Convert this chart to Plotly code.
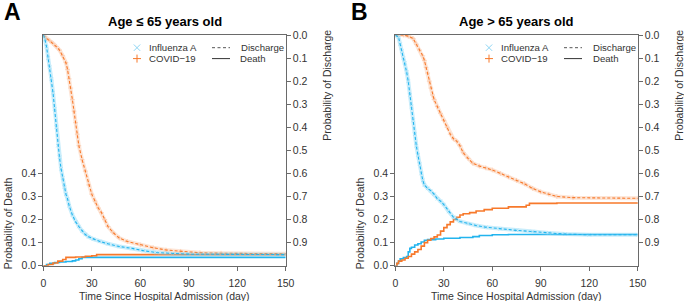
import plotly.graph_objects as go

W, H = 684, 301

# ---------------- data ----------------
# Panel A: Age <= 65
a_flu_dis_day = [0, 1, 2, 3, 4, 5, 6, 7, 8, 9, 10, 11, 12, 13, 14, 15, 16, 18, 20, 22, 24, 26, 28, 31, 35, 40, 47, 55, 62, 70, 80, 90, 150]
a_flu_dis_val = [0, 0.02, 0.05, 0.10, 0.14, 0.19, 0.25, 0.32, 0.40, 0.48, 0.53, 0.58, 0.62, 0.66, 0.69, 0.71, 0.74, 0.78, 0.81, 0.83, 0.85, 0.865, 0.875, 0.885, 0.895, 0.905, 0.917, 0.925, 0.935, 0.943, 0.948, 0.95, 0.952]
a_cov_dis_day = [0, 2, 4, 6, 8, 10, 12, 14, 15, 16, 17, 18, 19, 20, 21, 22, 24, 26, 28, 30, 32, 34, 36, 38, 40, 43, 47, 52, 60, 68, 76, 85, 97, 110, 150]
a_cov_dis_val = [0, 0.015, 0.025, 0.036, 0.05, 0.065, 0.09, 0.12, 0.15, 0.19, 0.23, 0.28, 0.33, 0.38, 0.43, 0.48, 0.54, 0.59, 0.65, 0.69, 0.72, 0.75, 0.77, 0.80, 0.83, 0.855, 0.88, 0.895, 0.91, 0.922, 0.932, 0.938, 0.944, 0.946, 0.948]
a_flu_death_day = [0, 2, 4, 7, 10, 14, 18, 20, 22, 24, 150]
a_flu_death_val = [0, 0.005, 0.01, 0.014, 0.016, 0.018, 0.021, 0.025, 0.030, 0.036, 0.036]
a_cov_death_day = [0, 3, 6, 9, 12, 14, 20, 26, 30, 33, 150]
a_cov_death_val = [0, 0.005, 0.012, 0.02, 0.027, 0.036, 0.038, 0.041, 0.043, 0.048, 0.048]

# Panel B: Age > 65
b_flu_dis_day = [0, 2, 3, 4, 5, 6, 7, 8, 9, 10, 11, 12, 13, 14, 15, 16, 17, 18, 20, 22, 24, 26, 28, 30, 33, 36, 40, 45, 50, 56, 65, 75, 85, 95, 105, 120, 150]
b_flu_dis_val = [0, 0.01, 0.04, 0.07, 0.10, 0.12, 0.16, 0.20, 0.26, 0.31, 0.37, 0.43, 0.48, 0.52, 0.56, 0.60, 0.63, 0.65, 0.665, 0.675, 0.69, 0.71, 0.72, 0.735, 0.765, 0.79, 0.808, 0.818, 0.826, 0.833, 0.84, 0.847, 0.852, 0.858, 0.863, 0.866, 0.866]
b_cov_dis_day = [0, 5, 8, 11, 13, 15, 17, 18, 19, 20, 21, 22, 23, 24, 26, 28, 30, 32, 34, 36, 38, 40, 42, 45, 48, 52, 56, 60, 65, 70, 75, 80, 85, 90, 95, 100, 110, 150]
b_cov_dis_val = [0, 0, 0.005, 0.015, 0.04, 0.065, 0.09, 0.11, 0.14, 0.165, 0.20, 0.23, 0.26, 0.28, 0.31, 0.34, 0.37, 0.40, 0.43, 0.45, 0.46, 0.48, 0.51, 0.535, 0.556, 0.568, 0.576, 0.585, 0.60, 0.615, 0.63, 0.645, 0.665, 0.68, 0.69, 0.70, 0.705, 0.708]
b_flu_death_day = [0, 1, 2, 3, 5, 7, 8, 9, 10, 12, 14, 16, 18, 20, 25, 30, 40, 48, 52, 60, 70, 150]
b_flu_death_val = [0, 0.01, 0.02, 0.03, 0.035, 0.04, 0.06, 0.075, 0.08, 0.09, 0.095, 0.103, 0.110, 0.113, 0.116, 0.119, 0.122, 0.126, 0.131, 0.134, 0.135, 0.135]
b_cov_death_day = [0, 1, 2, 4, 6, 8, 10, 12, 14, 16, 18, 20, 22, 24, 26, 28, 30, 32, 34, 36, 38, 40, 42, 46, 50, 55, 60, 70, 81, 83, 100, 150]
b_cov_death_val = [0, 0.01, 0.02, 0.025, 0.032, 0.04, 0.05, 0.06, 0.07, 0.085, 0.10, 0.11, 0.118, 0.125, 0.133, 0.15, 0.165, 0.178, 0.19, 0.20, 0.21, 0.22, 0.225, 0.23, 0.237, 0.243, 0.249, 0.255, 0.262, 0.27, 0.272, 0.275]

x_ticks = [0, 30, 60, 90, 120, 150]
death_ticks = [0.0, 0.1, 0.2, 0.3, 0.4]
dis_ticks = [0.0, 0.1, 0.2, 0.3, 0.4, 0.5, 0.6, 0.7, 0.8, 0.9]
titles = ["Age \u2264 65 years old", "Age > 65 years old"]
panel_letters = ["A", "B"]
legend_groups = ["Influenza A", "COVID\u221219"]
legend_styles = ["Discharge", "Death"]

# ---------------- styles ----------------
FONT = "Liberation Sans, Arial, Helvetica, sans-serif"
BLUE = "#22B4EE"
ORANGE = "#F7792B"
BLUE_L = "rgba(120,210,245,0.40)"
ORANGE_L = "rgba(250,170,120,0.30)"
BLUE_M = "rgba(140,215,245,0.45)"
ORANGE_M = "rgba(248,180,140,0.45)"
AXC = "#6a6a6a"
TXT = "#333333"

fig = go.Figure()

panels = [
    dict(x="x", yd="y", ydis="y2",
         flu_dis=(a_flu_dis_day, a_flu_dis_val), cov_dis=(a_cov_dis_day, a_cov_dis_val),
         flu_death=(a_flu_death_day, a_flu_death_val), cov_death=(a_cov_death_day, a_cov_death_val)),
    dict(x="x2", yd="y3", ydis="y4",
         flu_dis=(b_flu_dis_day, b_flu_dis_val), cov_dis=(b_cov_dis_day, b_cov_dis_val),
         flu_death=(b_flu_death_day, b_flu_death_val), cov_death=(b_cov_death_day, b_cov_death_val)),
]

for p in panels:
    for key, col, lcol, mcol, sym in [("cov_dis", ORANGE, ORANGE_L, ORANGE_M, "cross-thin"),
                                      ("flu_dis", BLUE, BLUE_L, BLUE_M, "x-thin")]:
        d, v = p[key]
        fig.add_trace(go.Scatter(x=d, y=v, xaxis=p["x"], yaxis=p["ydis"], mode="lines",
                                 line=dict(color=lcol, width=4, shape="linear"), hoverinfo="skip"))
        fig.add_trace(go.Scatter(x=d, y=v, xaxis=p["x"], yaxis=p["ydis"], mode="markers",
                                 marker=dict(symbol=sym, size=3.5, line=dict(color=mcol, width=1)),
                                 hoverinfo="skip"))
        fig.add_trace(go.Scatter(x=d, y=v, xaxis=p["x"], yaxis=p["ydis"], mode="lines",
                                 line=dict(color=col, width=1.1, dash="3px,2px", shape="linear")))
    for key, col in [("flu_death", BLUE), ("cov_death", ORANGE)]:
        d, v = p[key]
        fig.add_trace(go.Scatter(x=d, y=v, xaxis=p["x"], yaxis=p["yd"], mode="lines",
                                 line=dict(color=col, width=1.6, shape="hv")))

# plot area in pixels
top, bottom = 35.0, 265.7
lefts = [43.3, 395.3]
rights = [285.7, 637.7]
ydom = [1 - bottom / H, 1 - top / H]
TF = dict(size=10.5, color=TXT, family=FONT)

def xax(i):
    return dict(domain=[lefts[i] / W, rights[i] / W], range=[0, 150], tickvals=x_ticks,
                ticktext=[str(t) for t in x_ticks], showline=True, linecolor=AXC, linewidth=1,
                mirror=True, ticks="outside", ticklen=4, tickcolor=AXC, showgrid=False,
                zeroline=False, tickfont=TF, automargin=False,
                ticklabelstandoff=4, anchor="y" if i == 0 else "y3")

def ydeath(i):
    return dict(domain=ydom, range=[0, 1], tickvals=death_ticks,
                ticktext=["%.1f" % t for t in death_ticks], showline=True, linecolor=AXC,
                linewidth=1, ticks="outside", ticklen=4, tickcolor=AXC, showgrid=False,
                zeroline=False, tickfont=TF, automargin=False,
                anchor="x" if i == 0 else "x2", side="left")

def ydis(i):
    return dict(range=[1, 0], tickvals=dis_ticks, ticktext=["%.1f" % t for t in dis_ticks],
                showline=True, linecolor=AXC, linewidth=1, ticks="outside", ticklen=4,
                tickcolor=AXC, showgrid=False, zeroline=False, tickfont=TF, automargin=False,
                anchor="x" if i == 0 else "x2", side="right",
                overlaying="y" if i == 0 else "y3")

def px_line(x0, y0, x1, y1, color, width=1, dash=None):
    ln = dict(color=color, width=width)
    if dash:
        ln["dash"] = dash
    return dict(type="line", xref="paper", yref="paper", x0=x0 / W, x1=x1 / W,
                y0=1 - y0 / H, y1=1 - y1 / H, line=ln)

annotations = []
shapes = []
letter_x = [2, 349]
for i in range(2):
    cx = (lefts[i] + rights[i]) / 2
    off = lefts[i] - lefts[0]
    annotations.append(dict(text="<b>%s</b>" % titles[i], x=cx / W, y=1 - 21.7 / H, xref="paper",
                            yref="paper", showarrow=False, xanchor="center", yanchor="middle",
                            font=dict(size=13, color="#000", family=FONT)))
    annotations.append(dict(text="<b>%s</b>" % panel_letters[i], x=letter_x[i] / W,
                            y=1 - 12 / H, xref="paper", yref="paper", showarrow=False,
                            xanchor="left", yanchor="middle",
                            font=dict(size=23, color="#000", family=FONT)))
    annotations.append(dict(text="Time Since Hospital Admission (day)", x=cx / W, y=1 - 295.5 / H,
                            xref="paper", yref="paper", showarrow=False, xanchor="center",
                            yanchor="middle", font=TF))
    annotations.append(dict(text="Probability of Death", x=(lefts[i] - 35) / W, y=1 - 223 / H,
                            xref="paper", yref="paper", showarrow=False, textangle=-90,
                            xanchor="center", yanchor="middle", font=TF))
    annotations.append(dict(text="Probability of Discharge", x=(rights[i] + 41) / W, y=1 - 85 / H,
                            xref="paper", yref="paper", showarrow=False, textangle=-90,
                            xanchor="center", yanchor="middle", font=TF))
    # legend
    r1, r2 = 47.7, 58.6
    mx = 137 + off
    shapes.append(px_line(mx - 3.2, r1 - 3.2, mx + 3.2, r1 + 3.2, "#8fd6f4"))
    shapes.append(px_line(mx - 3.2, r1 + 3.2, mx + 3.2, r1 - 3.2, "#8fd6f4"))
    shapes.append(px_line(mx - 4, r2, mx + 4, r2, ORANGE))
    shapes.append(px_line(mx, r2 - 4, mx, r2 + 4, ORANGE))
    for txt, yy, xx in [(legend_groups[0], r1, 147), (legend_groups[1], r2, 147),
                        (legend_styles[0], r1, 238.5), (legend_styles[1], r2, 238.5)]:
        annotations.append(dict(text=txt, x=(xx + off) / W, y=1 - yy / H, xref="paper", yref="paper",
                                showarrow=False, xanchor="left", yanchor="middle",
                                font=dict(size=9.6, color=TXT, family=FONT)))
    shapes.append(px_line(212 + off, r1, 230 + off, r1, "#555", 1, "3px,2.5px"))
    shapes.append(px_line(212 + off, r2, 230 + off, r2, "#333", 1))

fig.update_layout(
    width=W, height=H, margin=dict(l=0, r=0, t=0, b=0, autoexpand=False),
    paper_bgcolor="white", plot_bgcolor="white", showlegend=False,
    xaxis=xax(0), yaxis=ydeath(0), yaxis2=ydis(0),
    xaxis2=xax(1), yaxis3=ydeath(1), yaxis4=ydis(1),
    annotations=annotations, shapes=shapes,
    font=dict(family=FONT, color=TXT),
)

fig.write_html("out.html", config={"displayModeBar": False},
               post_script="document.body.style.margin='0';document.body.style.padding='0';document.body.style.overflow='hidden';")
